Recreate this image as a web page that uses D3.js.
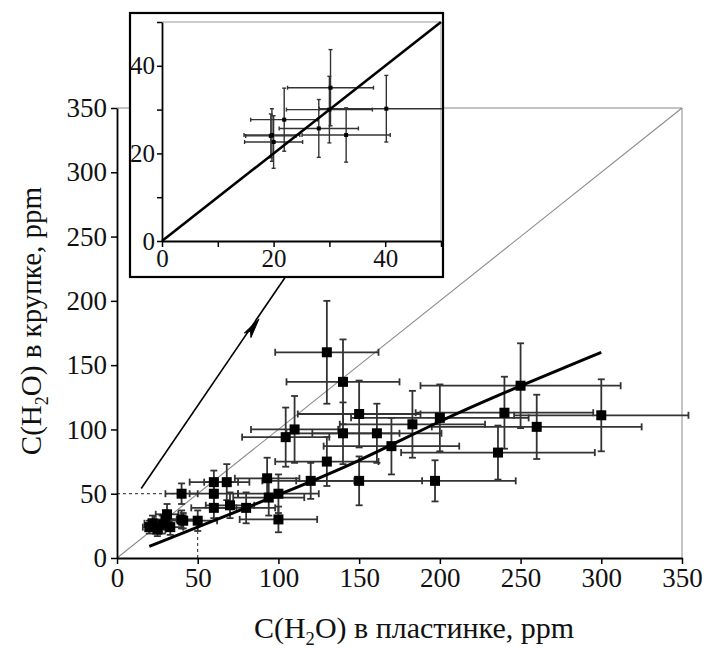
<!DOCTYPE html>
<html><head><meta charset="utf-8">
<script src="https://cdn.jsdelivr.net/npm/d3@7"></script>
<style>body{margin:0;background:#fff}svg{display:block}</style>
</head><body>
<svg id="c" width="711" height="649"></svg>
<script>
// ---- main chart data: C(H2O) in plate (x) vs in grains (y), ppm ----
const mainX    = [20, 22, 25, 28, 30, 31, 33, 40, 40, 41, 50, 60, 60, 60, 68, 70, 80, 93, 94, 100, 100, 104.5, 110, 120, 130, 130, 140, 140, 150, 150, 161, 170, 183, 197, 200, 236, 240, 250, 260, 300];
const mainY    = [24, 27, 22, 26, 30, 34, 24, 30, 50, 29, 29, 59, 50, 39, 59, 41, 39, 62, 47, 50, 30, 94, 100, 60, 75, 160, 137, 97, 112, 60, 97, 87, 104, 60, 109, 82, 113, 134, 102, 111];
const mainXerr = [4, 5, 5, 6, 7, 7, 8, 12, 10, 10, 12, 15, 15, 14, 14, 15, 18, 20, 22, 25, 24, 27, 27, 30, 32, 32, 35, 35, 38, 39, 40, 42, 45, 50, 55, 60, 55, 62, 65, 54];
const mainYerr = [5, 6, 5, 7, 7, 8, 6, 7, 8, 6, 8, 9, 10, 8, 14, 10, 12, 16, 14, 15, 10, 23, 26, 14, 19, 40, 33, 24, 26, 19, 23, 22, 26, 16, 26, 21, 28, 33, 25, 28];
// thick fitted curve
const fitX = [20, 60, 100, 150, 200, 250, 300];
const fitY = [9, 29, 49, 75, 107, 134, 160];
const mainTicks = [0, 50, 100, 150, 200, 250, 300, 350];
// ---- inset (zoom of 0..50 ppm) ----
const insetX    = [30.2, 30, 40.2, 21.9, 28.1, 33, 19.7, 20, 19.5];
const insetY    = [35, 30, 30.2, 27.7, 25.7, 24.2, 24.2, 22.6, 24];
const insetXerr = [7.7, 7.7, 12, 6, 7.1, 7.9, 5, 5.2, 4.5];
const insetYerr = [8.7, 7.6, 7.6, 7.2, 6.6, 6.2, 6, 6, 5];
const insetTicks = [0, 10, 20, 30, 40, 50];
const insetLabels = [0, 20, 40];
// annotation arrow (data units of main chart)
const arrowPts = [[15, 54], [88, 186], [104, 218]];
const guide = 50; // dashed guide to 50 ppm

const svg = d3.select('#c');
const FONT = 'Liberation Serif, Times New Roman, serif';

const x = d3.scaleLinear().domain([0, 350]).range([117, 682]);
const y = d3.scaleLinear().domain([0, 350]).range([558, 108]);

const g = svg.append('g');
// gray frame + diagonal
g.append('line').attr('x1', x(0)).attr('y1', y(350)).attr('x2', x(350)).attr('y2', y(350)).attr('stroke', '#8a8a8a').attr('stroke-width', 1);
g.append('line').attr('x1', x(350)).attr('y1', y(350)).attr('x2', x(350)).attr('y2', y(0)).attr('stroke', '#8a8a8a').attr('stroke-width', 1);
g.append('line').attr('x1', x(0)).attr('y1', y(0)).attr('x2', x(350)).attr('y2', y(350)).attr('stroke', '#8a8a8a').attr('stroke-width', 1.1);

// dashed guides
g.append('line').attr('x1', x(0)).attr('y1', y(guide)).attr('x2', x(38)).attr('y2', y(guide)).attr('stroke', '#222').attr('stroke-width', 1).attr('stroke-dasharray', '3,3');
g.append('line').attr('x1', x(guide)).attr('y1', y(0)).attr('x2', x(guide)).attr('y2', y(22)).attr('stroke', '#222').attr('stroke-width', 1).attr('stroke-dasharray', '3,3');

// error bars
function errorBars(sel, xs, ys, xe, ye, sx, sy, opts) {
  const data = xs.map((v, i) => ({x: v, y: ys[i], xe: xe[i], ye: ye[i]}));
  const eg = sel.append('g').attr('stroke', opts.color).attr('stroke-width', opts.sw).attr('fill', 'none');
  const c = opts.cap;
  data.forEach(d => {
    eg.append('line').attr('x1', sx(d.x - d.xe)).attr('x2', sx(d.x + d.xe)).attr('y1', sy(d.y)).attr('y2', sy(d.y));
    eg.append('line').attr('x1', sx(d.x - d.xe)).attr('x2', sx(d.x - d.xe)).attr('y1', sy(d.y) - c).attr('y2', sy(d.y) + c);
    eg.append('line').attr('x1', sx(d.x + d.xe)).attr('x2', sx(d.x + d.xe)).attr('y1', sy(d.y) - c).attr('y2', sy(d.y) + c);
    eg.append('line').attr('x1', sx(d.x)).attr('x2', sx(d.x)).attr('y1', sy(d.y - d.ye)).attr('y2', sy(d.y + d.ye));
    eg.append('line').attr('x1', sx(d.x) - c).attr('x2', sx(d.x) + c).attr('y1', sy(d.y - d.ye)).attr('y2', sy(d.y - d.ye));
    eg.append('line').attr('x1', sx(d.x) - c).attr('x2', sx(d.x) + c).attr('y1', sy(d.y + d.ye)).attr('y2', sy(d.y + d.ye));
  });
  const s = opts.size;
  sel.append('g').selectAll('rect').data(data).join('rect')
    .attr('x', d => sx(d.x) - s / 2).attr('y', d => sy(d.y) - s / 2)
    .attr('width', s).attr('height', s).attr('fill', '#000');
}
errorBars(g, mainX, mainY, mainXerr, mainYerr, x, y, {color: '#333', sw: 1.8, cap: 3.5, size: 10});

// fitted curve
g.append('path').datum(fitX.map((v, i) => [v, fitY[i]]))
  .attr('d', d3.line().x(d => x(d[0])).y(d => y(d[1])).curve(d3.curveBasis))
  .attr('fill', 'none').attr('stroke', '#000').attr('stroke-width', 3);

// arrow
const ap = arrowPts.map(p => [x(p[0]), y(p[1])]);
g.append('line').attr('x1', ap[0][0]).attr('y1', ap[0][1]).attr('x2', ap[2][0]).attr('y2', ap[2][1]).attr('stroke', '#000').attr('stroke-width', 1.6);
(function () {
  const [tx, ty] = ap[1];
  const ang = Math.atan2(ap[1][1] - ap[0][1], ap[1][0] - ap[0][0]);
  const L = 20, W = 4;
  const bx = tx - L * Math.cos(ang), by = ty - L * Math.sin(ang);
  const px = -Math.sin(ang) * W, py = Math.cos(ang) * W;
  g.append('path').attr('d', `M${tx},${ty}L${bx + px},${by + py}L${tx - 15 * Math.cos(ang)},${ty - 15 * Math.sin(ang)}L${bx - px},${by - py}Z`)
    .attr('fill', '#000').attr('stroke', '#000').attr('stroke-width', 1);
})();

// axes
const xAx = g.append('g').attr('transform', `translate(0,${y(0)})`)
  .call(d3.axisBottom(x).tickValues(mainTicks).tickSize(6).tickSizeOuter(0).tickPadding(4));
const yAx = g.append('g').attr('transform', `translate(${x(0)},0)`)
  .call(d3.axisLeft(y).tickValues(mainTicks).tickSize(6).tickSizeOuter(0).tickPadding(4));
[xAx, yAx].forEach(a => {
  a.select('.domain').attr('stroke', '#000').attr('stroke-width', 1.8);
  a.selectAll('.tick line').attr('stroke', '#000').attr('stroke-width', 1.5);
  a.selectAll('.tick text').attr('font-family', FONT).attr('font-size', 27).attr('fill', '#111');
});

function title(sel, size, pre, post) {
  sel.attr('font-family', FONT).attr('font-size', size).attr('fill', '#111').attr('text-anchor', 'middle');
  sel.append('tspan').text(pre);
  sel.append('tspan').attr('font-size', size * 0.62).attr('dy', 7).text('2');
  sel.append('tspan').attr('dy', -7).text(post);
}
title(svg.append('text').attr('x', 414).attr('y', 638), 30, 'C(H', 'O) в пластинке, ppm');
title(svg.append('text').attr('transform', 'translate(41,321) rotate(-90)'), 29, 'C(H', 'O) в крупке, ppm');

// ---- inset ----
const ix = d3.scaleLinear().domain([0, 50]).range([162, 441]);
const iy = d3.scaleLinear().domain([0, 50]).range([241, 22]);
const ins = svg.append('g');
ins.append('rect').attr('x', 130).attr('y', 13).attr('width', 313).attr('height', 264)
  .attr('fill', '#fff').attr('stroke', '#000').attr('stroke-width', 2.2);
ins.append('clipPath').attr('id', 'ic').append('rect').attr('x', 131).attr('y', 14).attr('width', 311).attr('height', 262);
const ig = ins.append('g').attr('clip-path', 'url(#ic)');
ig.append('line').attr('x1', ix(0)).attr('y1', iy(50)).attr('x2', ix(50)).attr('y2', iy(50)).attr('stroke', '#bbb').attr('stroke-width', 1.5);
ig.append('line').attr('x1', ix(50)).attr('y1', iy(50)).attr('x2', ix(50)).attr('y2', iy(0)).attr('stroke', '#bbb').attr('stroke-width', 1.5);
errorBars(ig, insetX, insetY, insetXerr, insetYerr, ix, iy, {color: '#333', sw: 1.4, cap: 2, size: 4});
ig.append('line').attr('x1', ix(0)).attr('y1', iy(0)).attr('x2', ix(50)).attr('y2', iy(50)).attr('stroke', '#000').attr('stroke-width', 2.6);
const ixA = ins.append('g').attr('transform', `translate(0,${iy(0)})`)
  .call(d3.axisBottom(ix).tickValues(insetTicks).tickSize(6).tickSizeOuter(0).tickPadding(2)
    .tickFormat(d => insetLabels.includes(d) ? d : ''));
const iyA = ins.append('g').attr('transform', `translate(${ix(0)},0)`)
  .call(d3.axisLeft(iy).tickValues(insetTicks).tickSize(5).tickSizeOuter(0).tickPadding(2)
    .tickFormat(d => insetLabels.includes(d) ? d : ''));
[ixA, iyA].forEach(a => {
  a.select('.domain').attr('stroke', '#000').attr('stroke-width', 1.8);
  a.selectAll('.tick line').attr('stroke', '#000').attr('stroke-width', 1.5);
  a.selectAll('.tick text').attr('font-family', FONT).attr('font-size', 25).attr('fill', '#111');
});
</script>
</body></html>
